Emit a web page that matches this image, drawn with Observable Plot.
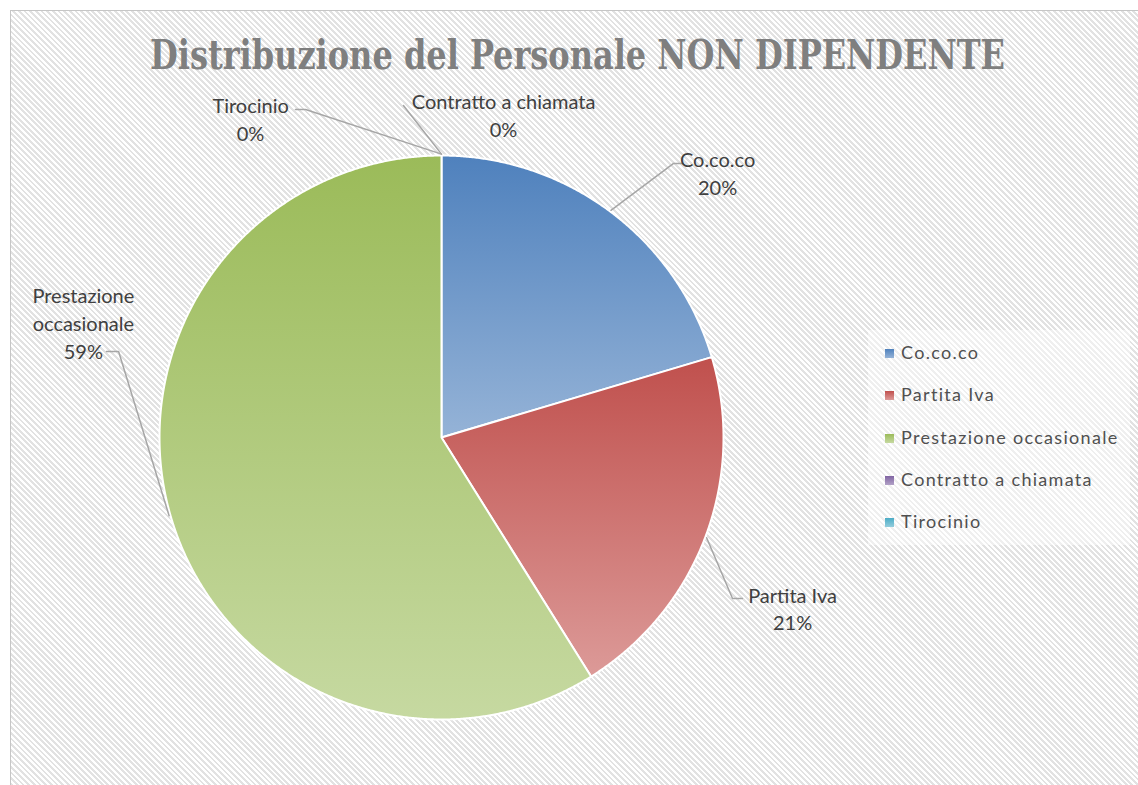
<!DOCTYPE html>
<html><head><meta charset="utf-8">
<script src="https://cdn.jsdelivr.net/npm/d3@7"></script>
<script src="https://cdn.jsdelivr.net/npm/@observablehq/plot@0.6"></script>
<style>
html,body{margin:0;background:#fff;overflow:hidden;}
#wrap{position:fixed;left:0;top:0;width:1138px;height:785px;overflow:hidden;}
#bg{position:absolute;left:10px;top:10px;right:-20px;bottom:-20px;border-left:1.5px solid #c6c6c6;border-top:1.5px solid #c6c6c6;
  background:repeating-linear-gradient(45deg,#ffffff 0px,#ffffff 2px,#e2e2e2 2px,#e2e2e2 4px);}
#title{position:absolute;top:35px;left:150px;white-space:nowrap;font-family:"DejaVu Serif Condensed","DejaVu Serif";font-weight:bold;font-size:41px;line-height:41px;color:#7f7f7f;transform-origin:0 0;}
#plot{position:absolute;left:0;top:0;}
#legend{position:absolute;left:868px;top:330px;width:262px;height:215px;background:rgba(255,255,255,0.45);}
.li{position:absolute;left:17px;font-family:Lato,"Open Sans",sans-serif;font-size:18px;color:#505050;line-height:20px;letter-spacing:1.3px;white-space:nowrap;}
.sw{display:inline-block;width:9px;height:9px;margin-right:7px;vertical-align:1px;}
</style></head>
<body>
<div id="wrap">
  <div id="bg"></div>
  <div id="title">Distribuzione del Personale NON DIPENDENTE</div>
  <div id="plot"></div>
  <div id="legend"></div>
</div>
<script>
// ---- data ----
const categories = ["Co.co.co", "Partita Iva", "Prestazione occasionale", "Contratto a chiamata", "Tirocinio"];
const shares = [20.4, 20.7, 58.9, 0, 0];
const labelNames = ["Co.co.co", "Partita Iva", "Prestazione\noccasionale", "Contratto a chiamata", "Tirocinio"];
const colorTop = ["#4f81bd", "#c0504d", "#9bbb59", "#8064a2", "#4bacc6"];
const colorBottom = ["#95b3d7", "#dc9a98", "#c6d9a1", "#b2a2c7", "#93cddd"];

// ---- layout (radius units, relative to pie centre; y up) ----
const W = 1138, H = 785, CX = 441, CY = 437, R = 282;
const labelPos = [[0.979, 0.94], [1.245, -0.603], [-1.27, 0.41], [0.22, 1.147], [-0.677, 1.134]];
const leaderPts = [
  [[0.858, 0.972], [0.823, 0.972]],
  [[1.067, -0.571], [1.032, -0.571]],
  [[-1.188, 0.305], [-1.145, 0.305]],
  [[-0.135, 1.177]],
  [[-0.518, 1.163], [-0.482, 1.163]]
];

const arcs = d3.pie().sort(null).value(d => d)(shares);
const pt = (a, r) => [Math.sin(a) * r, Math.cos(a) * r];

const sliceMarks = [];
arcs.forEach((a, i) => {
  if (a.endAngle - a.startAngle <= 0) return;
  const pts = [{x: 0, y: 0}];
  const n = Math.max(2, Math.ceil((a.endAngle - a.startAngle) / 0.005));
  for (let k = 0; k <= n; k++) {
    const ang = a.startAngle + (a.endAngle - a.startAngle) * k / n;
    const [x, y] = pt(ang, 1);
    pts.push({x, y});
  }
  sliceMarks.push(Plot.line(pts, {x: "x", y: "y", curve: "linear-closed", fill: `url(#grad${i})`, stroke: "white", strokeWidth: 2, strokeLinejoin: "round"}));
});

const leaders = [];
arcs.forEach((a, i) => {
  const mid = (a.startAngle + a.endAngle) / 2;
  const [ex, ey] = pt(mid, 1.005);
  leaderPts[i].forEach(p => leaders.push({id: i, x: p[0], y: p[1]}));
  leaders.push({id: i, x: ex, y: ey});
});

const labels = arcs.map((a, i) => ({
  x: labelPos[i][0], y: labelPos[i][1],
  text: labelNames[i] + "\n" + Math.round(shares[i]) + "%"
}));

const plot = Plot.plot({
  width: W, height: H,
  margin: 0,
  x: {domain: [-CX / R, (W - CX) / R], axis: null},
  y: {domain: [-(H - CY) / R, CY / R], axis: null},
  style: {background: "transparent", overflow: "visible"},
  marks: [
    ...sliceMarks,
    Plot.line(leaders, {x: "x", y: "y", z: "id", stroke: "#a6a6a6", strokeWidth: 1.5}),
    Plot.text(labels, {x: "x", y: "y", text: "text", fontSize: 20, lineHeight: 1.4, fill: "#404040", fontFamily: "Lato, 'Open Sans', sans-serif", lineAnchor: "middle", textAnchor: "middle"})
  ]
});

// gradients
const ns = "http://www.w3.org/2000/svg";
const defs = document.createElementNS(ns, "defs");
colorTop.forEach((c, i) => {
  const g = document.createElementNS(ns, "linearGradient");
  g.setAttribute("id", "grad" + i);
  g.setAttribute("x1", "0"); g.setAttribute("y1", "0"); g.setAttribute("x2", "0"); g.setAttribute("y2", "1");
  [[0, c], [1, colorBottom[i]]].forEach(([o, col]) => {
    const s = document.createElementNS(ns, "stop");
    s.setAttribute("offset", o); s.setAttribute("stop-color", col);
    g.appendChild(s);
  });
  defs.appendChild(g);
});
plot.insertBefore(defs, plot.firstChild);
document.getElementById("plot").appendChild(plot);

// legend
const legend = document.getElementById("legend");
categories.forEach((c, i) => {
  const d = document.createElement("div");
  d.className = "li";
  d.style.top = (12 + i * 42.3) + "px";
  const sw = document.createElement("span");
  sw.className = "sw";
  sw.style.background = `linear-gradient(${colorTop[i]}, ${colorBottom[i]})`;
  d.appendChild(sw);
  d.appendChild(document.createTextNode(c));
  legend.appendChild(d);
});

// title width fit
const t = document.getElementById("title");
const w = t.getBoundingClientRect().width;
t.style.transform = `scaleX(${855 / w})`;
</script>
</body></html>
